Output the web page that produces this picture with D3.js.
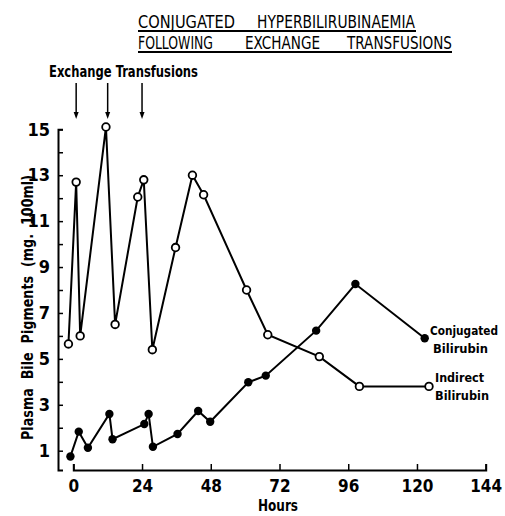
<!DOCTYPE html>
<html>
<head>
<meta charset="utf-8">
<script src="https://cdn.jsdelivr.net/npm/d3@7"></script>
<style>
  html, body { margin: 0; padding: 0; background: #fff; }
  svg { display: block; }
  text { font-family: "DejaVu Sans Condensed", "Liberation Sans Narrow", "DejaVu Sans", sans-serif; fill: #000; font-weight: bold; }
</style>
</head>
<body>
<svg id="chart" width="505" height="516"></svg>
<script>
// ---- data ----
const hoursIndirect = [-1.7, 1.0, 2.4, 11.4, 14.6, 22.5, 24.6, 27.6, 35.7, 41.6, 45.5, 60.5, 67.9, 85.9, 99.9, 124.2];
const indirect      = [5.65, 12.7, 6.0, 15.1, 6.5, 12.05, 12.8, 5.4, 9.85, 13.0, 12.15, 8.0, 6.05, 5.1, 3.8, 3.8];

const hoursConj  = [-1.0, 1.9, 5.1, 12.6, 13.7, 24.8, 26.3, 27.8, 36.4, 43.6, 47.8, 61.1, 67.2, 84.8, 98.5, 122.7];
const conjugated = [0.75, 1.83, 1.13, 2.6, 1.5, 2.16, 2.6, 1.17, 1.73, 2.73, 2.26, 3.98, 4.27, 6.23, 8.26, 5.9];

const exchangeHours = [1, 12, 24];

const xTicks = [0, 24, 48, 72, 96, 120, 144];
const yTicks = [1, 2, 3, 4, 5, 6, 7, 8, 9, 10, 11, 12, 13, 14, 15];
const yLabelled = [1, 3, 5, 7, 9, 11, 13, 15];

const titleLine1 = ["CONJUGATED", "HYPERBILIRUBINAEMIA"];
const titleLine2 = ["FOLLOWING", "EXCHANGE", "TRANSFUSIONS"];

// ---- drawing ----
const svg = d3.select("#chart");
const x = d3.scaleLinear().domain([0, 144]).range([73.3, 485.7]);
const yBase = 470;
const yLin = d3.scaleLinear().domain([1, 15]).range([450.7, 129.3]);
const y = d3.scaleLinear().domain([yLin.invert(yBase), 15]).range([yBase, yLin(15)]);

// Title
const t1 = svg.append("text").attr("y", 28).style("font-size", "17px").style("font-weight", "normal");
const t1pos = [[138, 97], [257, 158]];
titleLine1.forEach((w, i) => t1.append("tspan").attr("x", t1pos[i][0]).attr("textLength", t1pos[i][1]).attr("lengthAdjust", "spacingAndGlyphs").text(w));
const t2 = svg.append("text").attr("y", 49).style("font-size", "17px").style("font-weight", "normal");
const t2pos = [[138, 75], [245, 75], [347, 105]];
titleLine2.forEach((w, i) => t2.append("tspan").attr("x", t2pos[i][0]).attr("textLength", t2pos[i][1]).attr("lengthAdjust", "spacingAndGlyphs").text(w));
svg.append("line").attr("x1", 138).attr("x2", 416).attr("y1", 31).attr("y2", 31).attr("stroke", "#000").attr("stroke-width", 2);
svg.append("line").attr("x1", 138).attr("x2", 452).attr("y1", 52).attr("y2", 52).attr("stroke", "#000").attr("stroke-width", 2);

// Exchange transfusions label and arrows
svg.append("text").attr("x", 49).attr("y", 77).attr("textLength", 149).attr("lengthAdjust", "spacingAndGlyphs")
  .style("font-size", "16px").text("Exchange Transfusions");

svg.selectAll(".arrow").data(exchangeHours).enter().append("g").attr("class", "arrow").each(function (d) {
  const g = d3.select(this), cx = x(d);
  g.append("line").attr("x1", cx).attr("x2", cx).attr("y1", 83).attr("y2", 114).attr("stroke", "#000").attr("stroke-width", 1.5);
  g.append("path").attr("d", `M${cx - 2.5},112 L${cx + 2.5},112 L${cx},119 Z`).attr("fill", "#000");
});

// Axes
const tickFont = "\"DejaVu Sans Condensed\", \"Liberation Sans Narrow\", sans-serif";
const xAxis = d3.axisBottom(x).tickValues(xTicks).tickSizeInner(-6).tickSizeOuter(-6).tickPadding(10);
const gx = svg.append("g").attr("transform", `translate(0,${yBase})`).call(xAxis);
gx.select(".domain").attr("stroke-width", 2);
gx.selectAll(".tick line").attr("stroke-width", 1.5);
gx.selectAll(".tick text").style("font-size", "17px").style("font-family", tickFont).style("font-weight", "bold");

const yAxis = d3.axisLeft(y).tickValues(yTicks).tickSizeInner(-5).tickSizeOuter(-5).tickPadding(8)
  .tickFormat(d => yLabelled.includes(d) ? d : "");
const gy = svg.append("g").attr("transform", "translate(58,0)").call(yAxis);
gy.select(".domain").attr("stroke-width", 2);
gy.selectAll(".tick line").attr("stroke-width", 1.5);
gy.selectAll(".tick text").style("font-size", "18px").style("font-family", tickFont).style("font-weight", "bold");

// Axis titles
svg.append("text").attr("x", 258).attr("y", 511).attr("textLength", 40).attr("lengthAdjust", "spacingAndGlyphs")
  .style("font-size", "16px").text("Hours");
svg.append("text").attr("transform", "translate(33,440) rotate(-90)")
  .attr("textLength", 265).attr("lengthAdjust", "spacingAndGlyphs")
  .style("font-size", "16px").style("word-spacing", "5px").text("Plasma Bile Pigments (mg. 100ml)");

// Lines
const ind = hoursIndirect.map((h, i) => [h, indirect[i]]);
const con = hoursConj.map((h, i) => [h, conjugated[i]]);
const line = d3.line().x(d => x(d[0])).y(d => y(d[1]));

svg.append("path").datum(ind).attr("d", line).attr("fill", "none").attr("stroke", "#000").attr("stroke-width", 2);
svg.append("path").datum(con).attr("d", line).attr("fill", "none").attr("stroke", "#000").attr("stroke-width", 2);

svg.selectAll(".ind").data(ind).enter().append("circle").attr("class", "ind")
  .attr("cx", d => x(d[0])).attr("cy", d => y(d[1])).attr("r", 3.8)
  .attr("fill", "#fff").attr("stroke", "#000").attr("stroke-width", 1.8);
svg.selectAll(".con").data(con).enter().append("circle").attr("class", "con")
  .attr("cx", d => x(d[0])).attr("cy", d => y(d[1])).attr("r", 4.2)
  .attr("fill", "#000");

// Series labels
const lab = (txt, xx, yy, w) => svg.append("text").attr("x", xx).attr("y", yy).attr("textLength", w)
  .attr("lengthAdjust", "spacingAndGlyphs").style("font-size", "13px").text(txt);
lab("Conjugated", 430, 335, 68);
lab("Bilirubin", 433, 353, 55);
lab("Indirect", 435, 382, 49);
lab("Bilirubin", 435, 400, 54);
</script>
</body>
</html>
